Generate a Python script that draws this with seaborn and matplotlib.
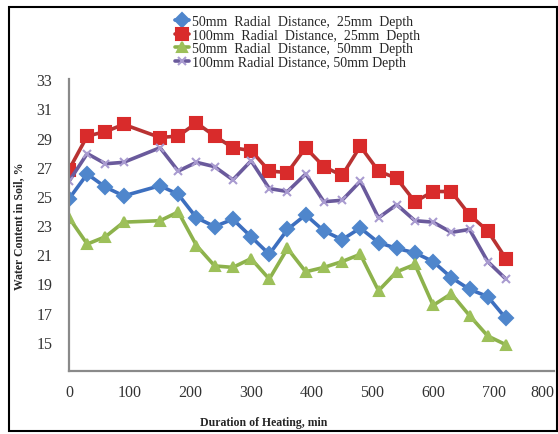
import numpy as np
import pandas as pd
import matplotlib
matplotlib.use("Agg")
import matplotlib.pyplot as plt
import seaborn as sns
from matplotlib.patches import Rectangle

# heating time, min (no reading at 120 min)
minutes = [0, 30, 60, 90, 150, 180, 210, 240, 270, 300, 330, 360,
           390, 420, 450, 480, 510, 540, 570, 600, 630, 660, 690, 720]

r50_d25 = [24.8, 26.5, 25.6, 25.0, 25.7, 25.1, 23.5, 22.9, 23.4, 22.2, 21.0, 22.7,
           23.7, 22.6, 22.0, 22.8, 21.8, 21.4, 21.1, 20.5, 19.4, 18.6, 18.1, 16.6]
r100_d25 = [26.8, 29.1, 29.4, 29.9, 29.0, 29.1, 30.0, 29.1, 28.3, 28.1, 26.7, 26.6,
            28.3, 27.0, 26.4, 28.4, 26.7, 26.2, 24.6, 25.3, 25.3, 23.7, 22.6, 20.7]
r50_d50 = [23.5, 21.7, 22.2, 23.2, 23.3, 23.9, 21.6, 20.2, 20.1, 20.7, 19.3, 21.4,
           19.8, 20.1, 20.5, 21.0, 18.5, 19.8, 20.3, 17.5, 18.3, 16.8, 15.4, 14.8]
r100_d50 = [26.0, 27.9, 27.2, 27.3, 28.3, 26.7, 27.3, 27.0, 26.1, 27.4, 25.5, 25.3,
            26.5, 24.6, 24.7, 26.0, 23.5, 24.4, 23.3, 23.2, 22.5, 22.7, 20.5, 19.3]

labels = ["50mm  Radial  Distance,  25mm  Depth",
          "100mm  Radial  Distance,  25mm  Depth",
          "50mm  Radial  Distance,  50mm  Depth",
          "100mm Radial Distance, 50mm Depth"]

x_ticks = [0, 100, 200, 300, 400, 500, 600, 700, 800]
y_ticks = [13, 15, 17, 19, 21, 23, 25, 27, 29, 31, 33]

sns.set_style("white")
plt.rcParams["font.family"] = ["Liberation Serif", "DejaVu Serif"]

fig = plt.figure(figsize=(5.58, 4.35), dpi=100)
ax = fig.add_axes([0.1237, 0.1448, 0.87, 0.671])

styles = [
    (r50_d25, "#3D6FBF", "#4F86CC", "D", 7),
    (r100_d25, "#B83232", "#D92B2B", "s", 8.5),
    (r50_d50, "#8DB24C", "#9DC05A", "^", 7.5),
    (r100_d50, "#6A5A9C", "#A99BD0", "x", 6),
]

for (vals, lc, mc, mk, ms), lab in zip(styles, labels):
    sns.lineplot(x=minutes, y=vals, ax=ax, color=lc, linewidth=2.6,
                 marker=mk, markersize=ms, markerfacecolor=mc,
                 markeredgecolor=mc, markeredgewidth=1.5, label=lab)

ax.set_xlim(0, 800)
ax.set_ylim(13, 33)
ax.set_xticks(x_ticks)
ax.set_xticklabels([str(t) for t in x_ticks])
ax.get_xticklabels()[-1].set_horizontalalignment("right")
ax.set_yticks(y_ticks)
ax.set_yticklabels(["" if t == 13 else str(t) for t in y_ticks])

for side in ["top", "right"]:
    ax.spines[side].set_visible(False)
for side in ["left", "bottom"]:
    ax.spines[side].set_color("#8a8a8a")
    ax.spines[side].set_linewidth(1.6)

ax.tick_params(axis="x", direction="inout", length=7, width=1, color="#8a8a8a",
               labelsize=11.5, pad=6, labelcolor="#333333")
ax.tick_params(axis="y", direction="out", length=4, width=1, color="#8a8a8a",
               labelsize=11.5, pad=8, labelcolor="#333333")

ax.set_xlabel("Duration of Heating, min", fontsize=8.5, fontweight="bold")
ax.xaxis.set_label_coords(0.4, -0.155)
ax.set_ylabel("Water Content in Soil, %", fontsize=8.5, fontweight="bold")
ax.yaxis.set_label_coords(-0.09, 0.5)

ax.legend(loc="upper left", bbox_to_anchor=(168 / 558, 1 - 9 / 435),
          bbox_transform=fig.transFigure, frameon=False, fontsize=10,
          handlelength=1.0, handletextpad=0.2, labelspacing=0.05, borderpad=0)

fig.patches.append(Rectangle((9 / 558, 3 / 435), 548 / 558, 424 / 435,
                             transform=fig.transFigure, fill=False,
                             edgecolor="black", linewidth=1.5))

fig.savefig("out.png", dpi=100)
